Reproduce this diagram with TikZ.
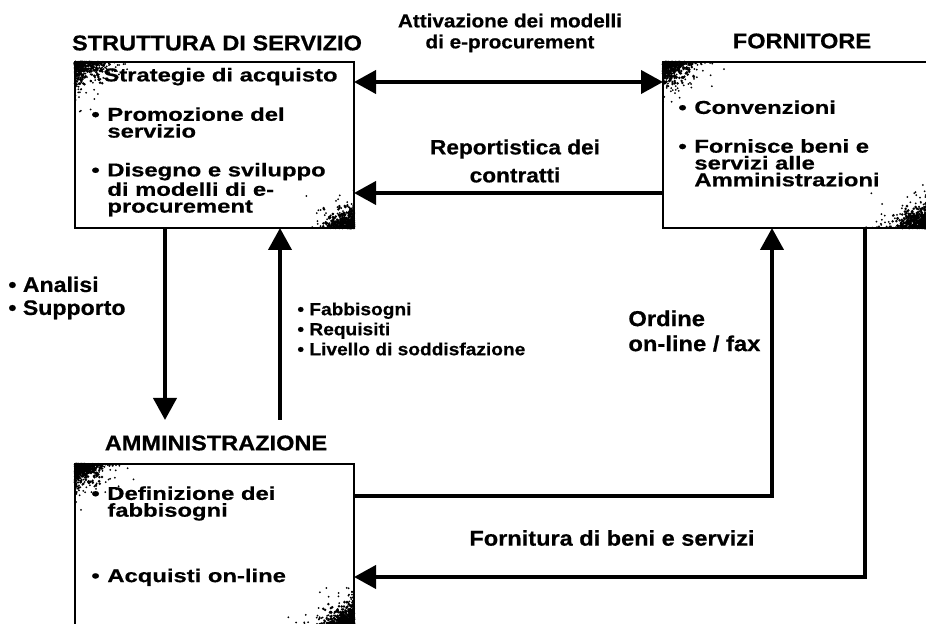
\documentclass[tikz,border=0pt]{standalone}
\usepackage{fontspec}
\setmainfont{Liberation Sans}[FakeStretch=1.1, FakeBold=0.6]
\newfontfamily\widefont{Liberation Sans}[FakeStretch=1.28, FakeBold=0.6]
\usetikzlibrary{arrows.meta}
\newcommand{\bul}{\makebox[8pt][l]{•}}
\newcommand{\ind}{\hspace*{8pt}}
% printed grain in the box corners: corner x, corner y, x dir, y dir
\newcommand{\grain}[4]{%
  \foreach \k in {1,...,320}{%
    \pgfmathsetmacro{\gx}{#1+#3*34*rnd*rnd}%
    \pgfmathsetmacro{\gy}{#2+#4*24*rnd*rnd}%
    \fill (\gx,\gy) circle (0.7pt);
  }
  \foreach \k in {1,...,260}{%
    \pgfmathsetmacro{\gx}{#1+#3*80*rnd*rnd*rnd}%
    \pgfmathsetmacro{\gy}{#2+#4*55*rnd*rnd*rnd}%
    \fill (\gx,\gy) circle (0.5pt);
  }}
\tikzset{
  box/.style={draw, line width=1.2pt, inner sep=0pt, outer sep=0pt},
  title/.style={font=\bfseries\fontsize{10.7}{12}\selectfont},
  inbox/.style={font=\widefont\bfseries\fontsize{9.3}{8.4}\selectfont, align=left, anchor=north west, inner sep=0pt},
  lbl/.style={inner sep=0pt, align=left},
  flow/.style={line width=2pt}
}

\begin{document}
\begin{tikzpicture}[x=0.5pt, y=-0.5pt, >={Triangle[length=11pt,width=11.5pt]}]
	\useasboundingbox (0,0) rectangle (926,624);
	\pgfmathsetseed{11}
	%
	\node[box, minimum width=139.5pt, minimum height=83pt] (sv) at (214.5,145) {};
	\node[box, minimum width=134pt, minimum height=83pt] (fo) at (797,145) {};
	\node[box, minimum width=139.5pt, minimum height=83pt] (am) at (214.5,547) {};
	\grain{75}{62}{1}{1}
	\grain{354}{228}{-1}{-1}
	\grain{663}{62}{1}{1}
	\grain{926}{228}{-1}{-1}
	\grain{75}{464}{1}{1}
	\grain{354}{624}{-1}{-1}
	%
	\node[title] (svt) at (217,43) {STRUTTURA DI SERVIZIO};
	\node[title] (fot) at (802,41) {FORNITORE};
	\node[title] (amt) at (216,443) {AMMINISTRAZIONE};
	%
	\node[inbox] (svx) at (91,67.5)
		{\hspace*{6pt}Strategie di acquisto\\[10pt]
		 \bul Promozione del\\ \ind servizio\\[11pt]
		 \bul Disegno e sviluppo\\ \ind di modelli di e-\\ \ind procurement};
	\node[inbox] (fox) at (678,100)
		{\bul Convenzioni\\[11pt]
		 \bul Fornisce beni e\\ \ind servizi alle\\ \ind Amministrazioni};
	\node[inbox] (amx) at (91,486)
		{\bul Definizione dei\\ \ind fabbisogni\\[23pt]
		 \bul Acquisti on-line};
	%
	\node[lbl, align=center, font=\bfseries\fontsize{9.4}{10.5}\selectfont] (attiv) at (510,33) {Attivazione dei modelli\\di e-procurement};
	\node[lbl, align=center, font=\bfseries\fontsize{10.3}{14}\selectfont] (report) at (515,161) {Reportistica dei\\contratti};
	\node[lbl, anchor=west, font=\bfseries\fontsize{10.5}{11.5}\selectfont] (supp) at (8,298) {• Analisi\\• Supporto};
	\node[lbl, anchor=west, font=\bfseries\fontsize{8.7}{10}\selectfont] (fabb) at (297,329) {• Fabbisogni\\• Requisiti\\• Livello di soddisfazione};
	\node[lbl, anchor=west, font=\bfseries\fontsize{10.8}{12.5}\selectfont] (ord) at (628,331) {Ordine\\on-line / fax};
	\node[lbl, font=\bfseries\fontsize{10.7}{12}\selectfont] (forn) at (612,538) {Fornitura di beni e servizi};
	%
	\coordinate (dn) at (165,420);
	\coordinate (up) at (280,420);
	%
	\draw [flow,<->] ([yshift=-10pt]sv.north east) -- ([yshift=-10pt]fo.north west);
	\draw [flow,->] ([yshift=-65.5pt]fo.north west) -- ([yshift=-65.5pt]sv.north east);
	\draw [flow,->] ([xshift=45pt]sv.south west) -- (dn);
	\draw [flow,->] (up) -- ([xshift=102.5pt]sv.south west);
	\draw [flow,->] ([yshift=-16pt]am.north east) -| ([xshift=54.5pt]fo.south west);
	\draw [flow,->] ([xshift=101pt]fo.south west) |- ([yshift=-56.5pt]am.north east);
\end{tikzpicture}
\end{document}
